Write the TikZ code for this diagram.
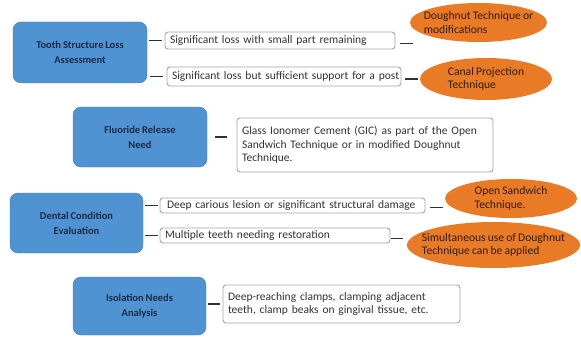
\documentclass[tikz,border=0pt]{standalone}
\usepackage{fontspec}
\setmainfont{Carlito}[WordSpace=0.8]
\usetikzlibrary{shapes.geometric}
\definecolor{boxblue}{HTML}{4F93D2}
\definecolor{boxtext}{HTML}{1E2A44}
\definecolor{ovalorange}{HTML}{E97A26}
\definecolor{ovaltext}{HTML}{2E1E10}
\definecolor{lightgray}{HTML}{A6A6A6}
\definecolor{connclr}{HTML}{303030}
\tikzset{
  bluebox/.style={draw=boxblue!85!black, line width=0.4pt, fill=boxblue, rounded corners=8pt,
    text=boxtext, font=\fontsize{10.5}{15}\selectfont\bfseries, align=center, inner sep=0pt},
  textbox/.style={draw=lightgray, line width=0.9pt, fill=white, rounded corners=3pt,
    font=\fontsize{11.5}{13.4}\selectfont, text=black!80, align=left, inner xsep=5pt, inner ysep=0pt},
  oval/.style={ellipse, fill=ovalorange, draw=none, text=ovaltext,
    font=\fontsize{11.6}{13.4}\selectfont, align=left, inner xsep=-16pt, inner ysep=-3pt},
  conn/.style={draw=connclr, line width=1.6pt}
}
\begin{document}
\begin{tikzpicture}[x=1pt,y=-1pt]
\useasboundingbox (0,0) rectangle (581,337);
% blue boxes
\node[bluebox, minimum width=134pt, minimum height=61pt] (b1) at (80,52.5) {Tooth Structure Loss\\Assessment};
\node[bluebox, minimum width=134pt, minimum height=60pt] (b2) at (140,137) {Fluoride Release\\Need};
\node[bluebox, minimum width=133pt, minimum height=60pt] (b3) at (76.5,223) {Dental Condition\\Evaluation};
\node[bluebox, minimum width=133pt, minimum height=58pt] (b4) at (139.5,306) {Isolation Needs\\Analysis};
% text boxes
\node[textbox, text width=220pt, minimum height=17pt] (t1a) at (280,40.5) {\mbox{Significant loss with small part remaining}};
\node[textbox, text width=224pt, minimum height=19pt] (t1b) at (284,76.5) {\mbox{Significant loss but sufficient support for a post}};
\node[textbox, text width=246pt, minimum height=54pt] (t2) at (365,145) {\mbox{Glass Ionomer Cement (GIC) as part of the Open}\\\mbox{Sandwich Technique or in modified Doughnut}\\Technique.};
\node[textbox, text width=255pt, minimum height=15pt] (t3a) at (292.5,205.5) {\mbox{\hspace{2pt}Deep carious lesion or significant structural damage}};
\node[textbox, text width=220pt, minimum height=15pt] (t3b) at (275,235.5) {\mbox{Multiple teeth needing restoration}};
\node[textbox, text width=227pt, minimum height=38pt] (t4) at (341.5,304) {\mbox{Deep-reaching clamps, clamping adjacent}\\\mbox{teeth, clamp beaks on gingival tissue, etc.}};
% ovals
\node[oval, minimum width=137pt, minimum height=39pt] (e1) at (478.5,22.5) {Doughnut Technique or\\modifications};
\node[oval, minimum width=132pt, minimum height=42pt] (e2) at (486,79) {Canal Projection\\Technique};
\node[oval, minimum width=132pt, minimum height=39pt] (e3) at (511,198.5) {Open Sandwich\\Technique.};
\node[oval, minimum width=173pt, minimum height=46pt] (e4) at (493.5,245) {Simultaneous use of Doughnut\\Technique can be applied};
% connectors
\draw[conn, shorten <=2pt, shorten >=3pt] (b1.east |- t1a.west) -- (t1a.west);
\draw[conn, shorten <=3pt, shorten >=4pt] (b1.east |- t1b.west) -- (t1b.west);
\draw[conn, shorten <=8pt, shorten >=10pt] (b2.east) -- (b2.east -| t2.west);
\draw[conn, shorten <=2pt, shorten >=2pt] (b3.east |- t3a.west) -- (t3a.west);
\draw[conn, shorten <=2pt, shorten >=2pt] (b3.east |- t3b.west) -- (t3b.west);
\draw[conn, shorten <=2pt, shorten >=3pt] (b4.east |- t4.west) -- (t4.west);
\draw[conn, shorten <=5pt, shorten >=-3pt] ([yshift=-3pt]t1a.east) -- ([yshift=-3pt]t1a.east -| e1.west);
\draw[conn, shorten <=4pt, shorten >=2pt] (t1b.east |- e2.west) -- (e2.west);
\draw[conn, shorten <=5pt, shorten >=2pt] ([yshift=-2pt]t3a.east) -- ([yshift=-2pt]t3a.east -| e3.west);
\draw[conn, shorten <=1pt, shorten >=4pt] ([yshift=-3pt]t3b.east) -- ([yshift=-3pt]t3b.east -| e4.west);
\end{tikzpicture}
\end{document}
